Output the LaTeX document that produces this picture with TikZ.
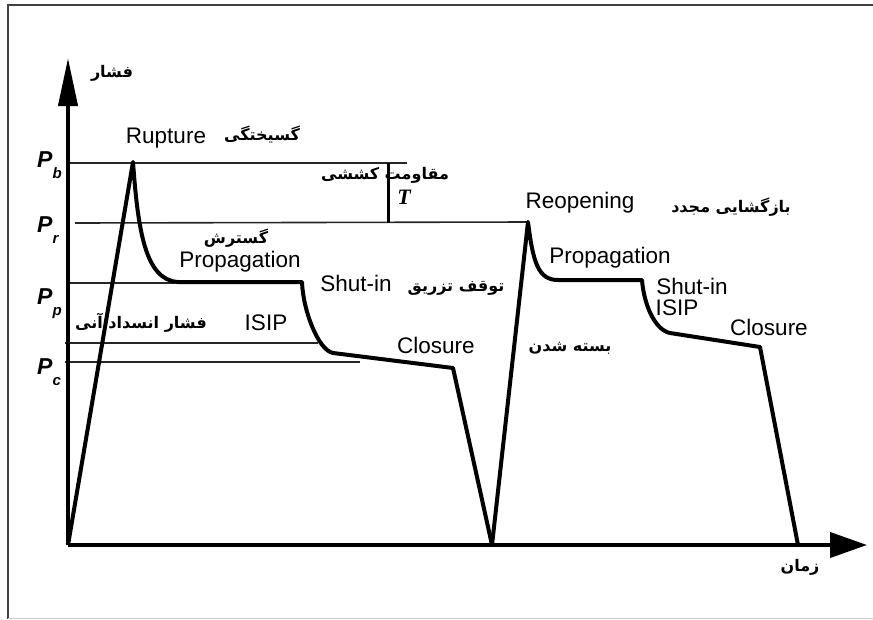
\documentclass[tikz,border=0pt]{standalone}
\usepackage{fontspec}
\setmainfont{Liberation Sans}
\newfontfamily\farsi[Script=Arabic]{DejaVu Sans}
\newfontfamily\serifbi{Liberation Serif}
\TeXXeTstate=1
\usetikzlibrary{arrows.meta}
\newcommand{\fa}[1]{{\farsi\bfseries\beginR #1\endR}}
\newcommand{\psub}[1]{P\raisebox{-11pt}{\fontsize{15}{15}\selectfont #1}}

\begin{document}
\begin{tikzpicture}[x=1pt, y=-1pt,
  curve/.style={line width=4pt, line join=round},
  guide/.style={line width=1.6pt, black!85},
  axis/.style={line width=4pt},
  lbl/.style={font=\fontsize{22.5}{24}\selectfont, inner sep=0pt},
  falbl/.style={font=\fontsize{16}{18}\selectfont, inner sep=0pt},
  plbl/.style={font=\fontsize{23}{24}\selectfont\bfseries\itshape, inner sep=0pt, anchor=base west},
  tlbl/.style={font=\fontsize{22}{24}\selectfont\serifbi\bfseries\itshape, inner sep=0pt}
]
\useasboundingbox (0,0) rectangle (873,619);
% frame
\draw[line width=2pt, black!75] (873,5) -- (8,5) -- (8,619);
\draw[line width=1pt, black!20] (8,618) -- (873,618);

% key points
\coordinate (o) at (68,545);
\coordinate (ytip) at (68,58);
\coordinate (xtip) at (867,545);
\coordinate (peak1) at (133,162);
\coordinate (peak2) at (528,222);
\coordinate (low1) at (492,545);
\coordinate (low2) at (798,545);

% guide lines
\draw[guide] (68,163) -- (407,163);
\draw[guide] (75,223) -- (peak2);
\draw[guide] (68,283) -- (175,283);
\draw[guide] (65,343) -- (318,343);
\draw[guide] (65,362) -- (360,362);
\draw[line width=3pt] (388,163) -- (388,223);

% axes
\draw[axis, -{Triangle[length=48pt, width=19pt]}] (o) -- (ytip);
\draw[axis, -{Triangle[length=37pt, width=25pt]}] (o) -- (xtip);

% first cycle
\draw[curve] (o) -- (peak1)
  .. controls (138,230) and (145,280) .. (178,282) -- (302,282)
  .. controls (303,310) and (318,350) .. (333,353)
  -- (453,368) -- (low1);
% second cycle
\draw[curve] (low1) -- (peak2)
  .. controls (533,262) and (538,280) .. (558,280) -- (642,280)
  .. controls (644,305) and (655,330) .. (670,333)
  -- (760,347) -- (low2);

% pressure levels
\node[plbl] (pb) at (37,167) {\psub{b}};
\node[plbl] (pr) at (37,232) {\psub{r}};
\node[plbl] (pp) at (37,304) {\psub{p}};
\node[plbl] (pc) at (37,374) {\psub{c}};
\node[tlbl] (tens) at (404,197) {T};

% labels
\node[falbl] (ylabel) at (112,73) {\fa{فشار}};
\node[falbl] (xlabel) at (800,567) {\fa{زمان}};
\node[lbl] (rupture) at (166,138) {Rupture};
\node[falbl] (rupturefa) at (262,135) {\fa{گسیختگی}};
\node[falbl] (tensfa) at (385,175) {\fa{مقاومت کششی}};
\node[falbl] (propfa) at (236,238) {\fa{گسترش}};
\node[lbl] (prop1) at (240,262) {Propagation};
\node[lbl] (shut1) at (356,283) {Shut-in};
\node[falbl] (shutfa) at (456,288) {\fa{توقف تزریق}};
\node[falbl] (isipfa) at (141,323) {\fa{فشار انسداد آنی}};
\node[lbl] (isip1) at (266,323) {ISIP};
\node[lbl] (clos1) at (436,345) {Closure};
\node[falbl] (closfa) at (570,348) {\fa{بسته شدن}};
\node[lbl] (reopen) at (580,203) {Reopening};
\node[falbl] (reopenfa) at (731,207) {\fa{بازگشایی مجدد}};
\node[lbl] (prop2) at (610,258) {Propagation};
\node[lbl] (shut2) at (692,286) {Shut-in};
\node[lbl] (isip2) at (677,308) {ISIP};
\node[lbl] (clos2) at (769,327) {Closure};
\end{tikzpicture}
\end{document}
